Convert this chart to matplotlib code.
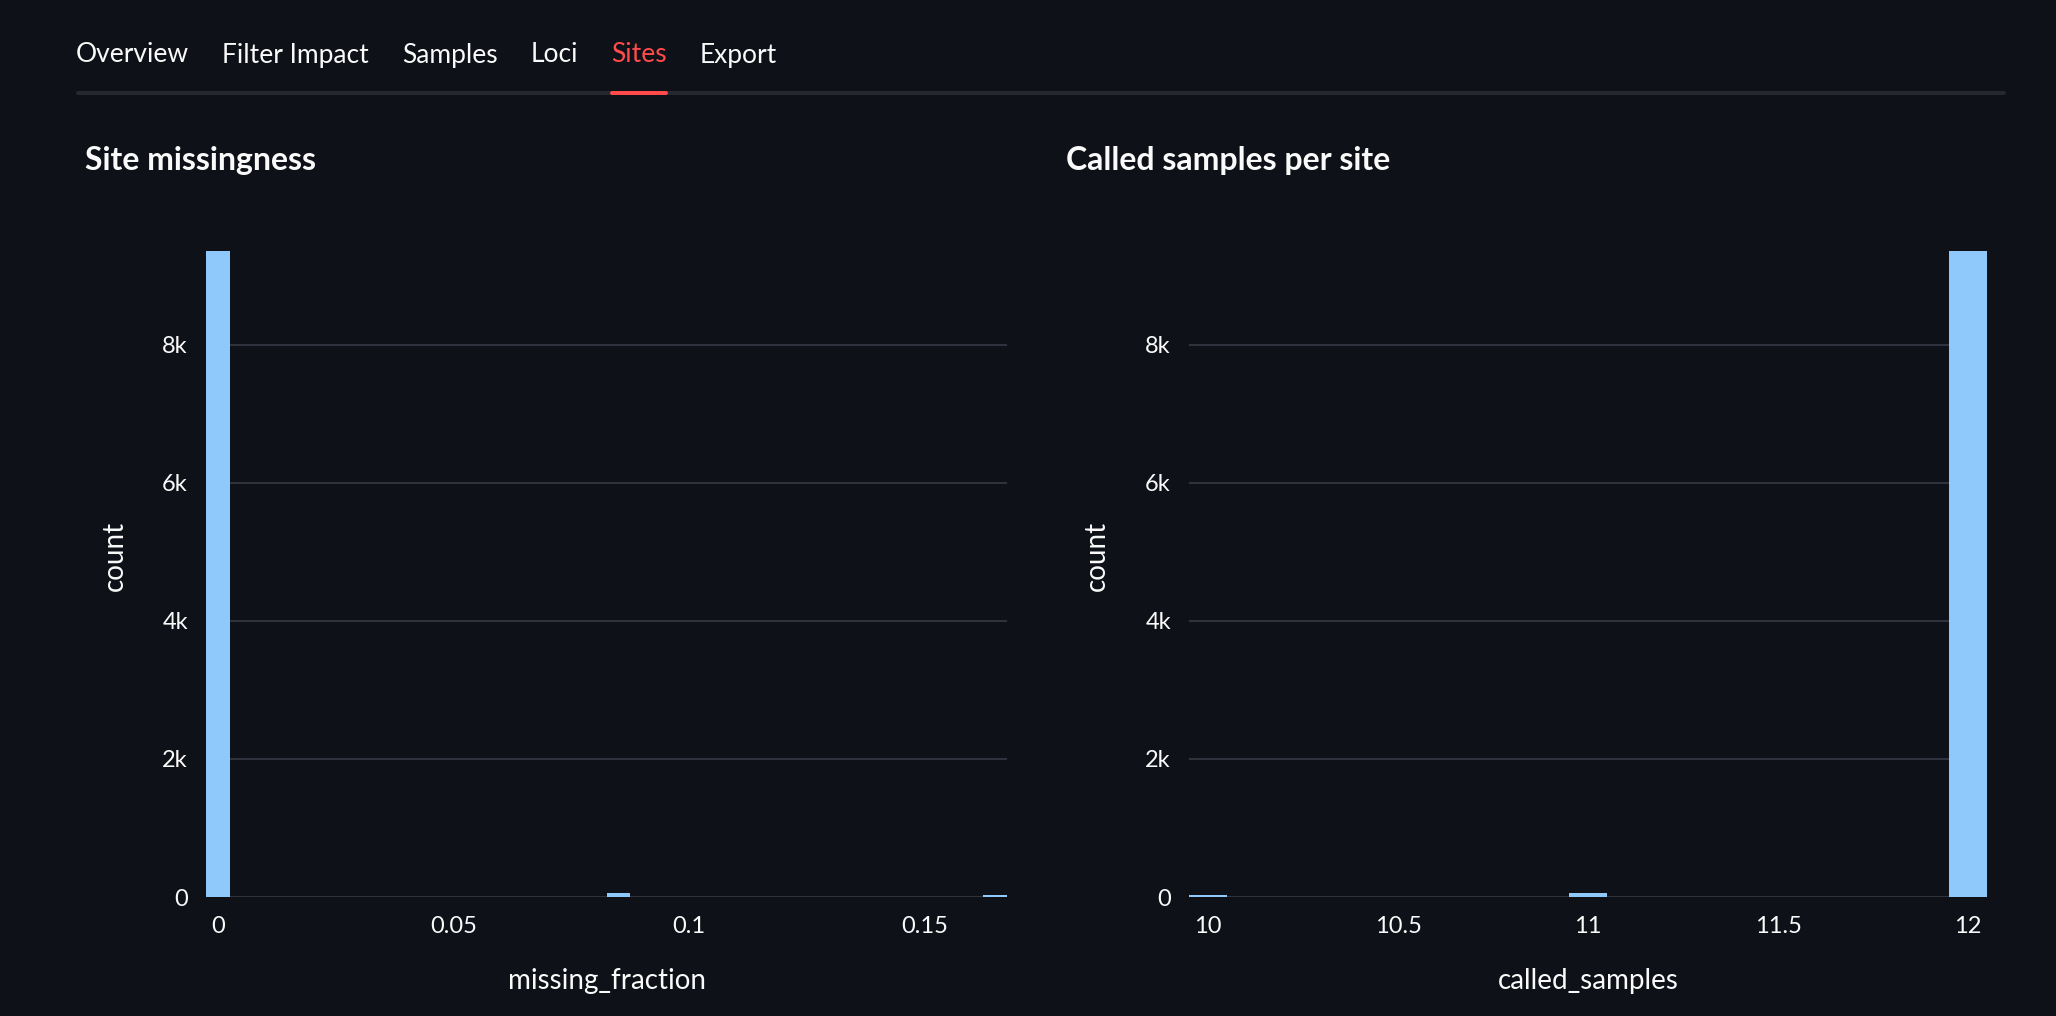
import numpy as np
import matplotlib.pyplot as plt
from matplotlib.lines import Line2D

# dati
tabs = ["Overview", "Filter Impact", "Samples", "Loci", "Sites", "Export"]
active_tab = "Sites"

missing_edges = [-0.0025, 0.0825, 0.1625]   # bordo sinistro dei bin
missing_counts = [9362, 54, 25]
missing_width = 0.005

called_edges = [9.95, 10.95, 11.95]
called_counts = [25, 54, 9362]
called_width = 0.1

y_ticks = [0, 2000, 4000, 6000, 8000]
y_labels = ["0", "2k", "4k", "6k", "8k"]
missing_ticks = [0, 0.05, 0.1, 0.15]
missing_labels = ["0", "0.05", "0.1", "0.15"]
called_ticks = [10, 10.5, 11, 11.5, 12]
called_labels = ["10", "10.5", "11", "11.5", "12"]

BG = "#0E1117"
FG = "#FAFAFA"
BAR = "#8FC8FB"
GRID = "#31333F"
RED = "#FF4B4B"

W, H = 2056, 1016
plt.rcParams['font.family'] = ['Lato', 'DejaVu Sans']

fig = plt.figure(figsize=(W / 100, H / 100), dpi=100, facecolor=BG)


def px_axes(x0, y0, x1, y1):
    return fig.add_axes([x0 / W, 1 - y1 / H, (x1 - x0) / W, (y1 - y0) / H])


def fx(x):
    return x / W


def fy(y):
    return 1 - y / H


# tabs
renderer = fig.canvas.get_renderer()
x = 76
tab_ext = {}
for t in tabs:
    col = RED if t == active_tab else FG
    txt = fig.text(fx(x), fy(55), t, color=col, fontsize=19, ha='left', va='center')
    bb = txt.get_window_extent(renderer)
    tab_ext[t] = (x, x + bb.width)
    x = x + bb.width + 33

fig.add_artist(Line2D([fx(78), fx(2004)], [fy(93), fy(93)], color="#262730",
                      lw=2.9, solid_capstyle='round'))
a0, a1 = tab_ext[active_tab]
fig.add_artist(Line2D([fx(a0 + 1), fx(a1 - 1)], [fy(93), fy(93)], color=RED,
                      lw=2.9, solid_capstyle='round'))


def histo(ax, edges, counts, width, ticks, labels, xlabel, xlim):
    ax.set_facecolor(BG)
    ax.bar(edges, counts, width=width, align='edge', color=BAR, linewidth=0)
    ax.set_xlim(*xlim)
    ax.set_ylim(0, 9884)
    ax.set_yticks(y_ticks)
    ax.set_yticklabels(y_labels)
    ax.set_xticks(ticks)
    ax.set_xticklabels(labels)
    ax.grid(axis='y', color=GRID, lw=1.4)
    ax.set_axisbelow(True)
    for s in ax.spines.values():
        s.set_visible(False)
    ax.tick_params(axis='both', length=0, colors=FG, labelsize=17)
    ax.tick_params(axis='x', pad=14)
    ax.tick_params(axis='y', pad=13)
    ax.set_xlabel(xlabel, color=FG, fontsize=20)
    ax.set_ylabel("count", color=FG, fontsize=20)
    ax.xaxis.set_label_coords(0.5, -0.123)
    ax.xaxis.label.set_va('center')
    ax.yaxis.label.set_va('center')


ax1 = px_axes(206, 215, 1007, 897)
histo(ax1, missing_edges, missing_counts, missing_width, missing_ticks,
      missing_labels, "missing_fraction", (-0.0025, 0.1675))
ax1.yaxis.set_label_coords(-0.1136, 0.5)

ax2 = px_axes(1189, 215, 1987, 897)
histo(ax2, called_edges, called_counts, called_width, called_ticks,
      called_labels, "called_samples", (9.95, 12.05))
ax2.yaxis.set_label_coords(-0.1153, 0.5)

# titoli
fig.text(fx(85), fy(161), "Site missingness", color=FG, fontsize=23,
         fontweight='bold', ha='left', va='center')
fig.text(fx(1066), fy(161), "Called samples per site", color=FG, fontsize=23,
         fontweight='bold', ha='left', va='center')

fig.savefig("out.png", dpi=100, facecolor=BG)
